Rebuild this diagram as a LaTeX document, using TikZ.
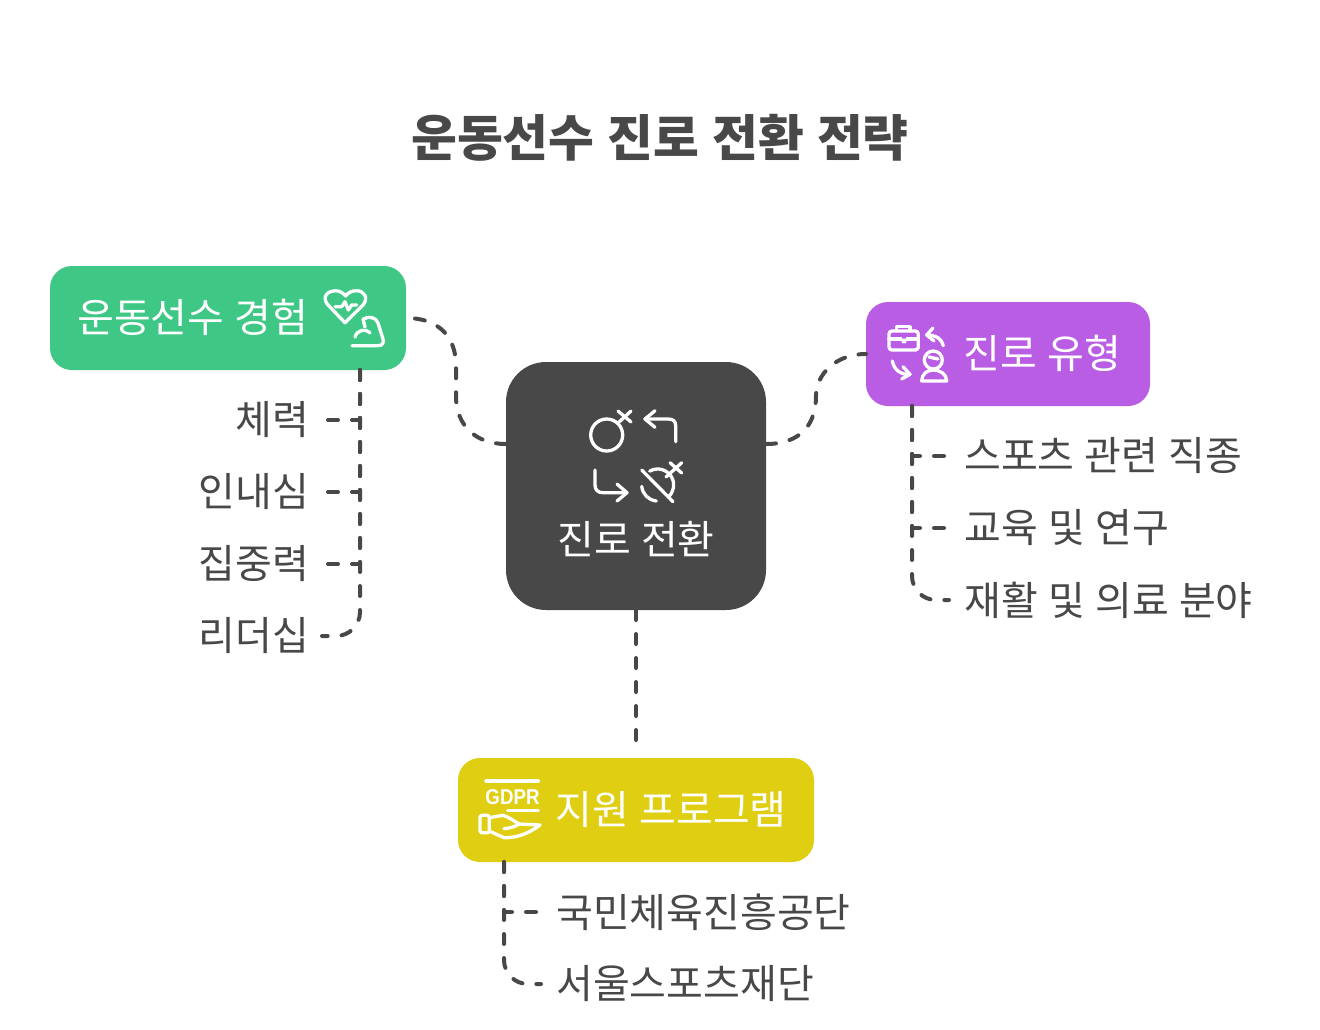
\documentclass[tikz,border=0pt]{standalone}
\usepackage{fontspec}
\setmainfont[WordSpace=1.15]{Noto Sans CJK KR}
\newfontfamily\gdprfont{Liberation Sans}
\definecolor{inkgray}{HTML}{484848}
\definecolor{expgreen}{HTML}{3EC785}
\definecolor{typpurple}{HTML}{BA5DE5}
\definecolor{proyellow}{HTML}{E0CE12}
\tikzset{
  box/.style={minimum width=#1, inner sep=0pt, outer sep=0pt},
  lbl/.style={inner sep=0pt, text=white, font=\fontsize{40}{48}\selectfont},
  leafl/.style={anchor=east, inner xsep=13pt, inner ysep=0pt, text=inkgray, font=\fontsize{40}{48}\selectfont},
  leafr/.style={anchor=west, inner xsep=15pt, inner ysep=0pt, text=inkgray, font=\fontsize{40}{48}\selectfont},
  branch/.style={draw=inkgray, line width=4pt, line cap=round, dash pattern=on 10pt off 14pt},
  glyph/.style={draw=white, line width=3.3pt, line cap=round, line join=round}
}
\begin{document}
\begin{tikzpicture}[x=1pt,y=-1pt]
  \useasboundingbox (0,0) rectangle (1320,1029);
  \node[inner sep=0pt, text=inkgray, font=\fontsize{49.8}{60}\selectfont\bfseries] (title) at (660,138) {운동선수 진로 전환 전략};
  % boxes
  \node[box=356pt, minimum height=104pt, fill=expgreen, rounded corners=22pt] (exp) at (228,318) {};
  \node[box=260pt, minimum height=248pt, fill=inkgray, rounded corners=40pt] (cen) at (636,486) {};
  \node[box=284pt, minimum height=104pt, fill=typpurple, rounded corners=22pt] (typ) at (1008,354) {};
  \node[box=356pt, minimum height=104pt, fill=proyellow, rounded corners=22pt] (pro) at (636,810) {};
  \node[lbl, anchor=west] (explbl) at (77,317.5) {운동선수 경험};
  \node[lbl] (cenlbl) at (636,539.5) {진로 전환};
  \node[lbl, anchor=west] (typlbl) at (963.5,353.5) {진로 유형};
  \node[lbl, anchor=west] (prolbl) at (555.5,809.5) {지원 프로그램};
  % leaves
  \node[leafl] (l1) at (322,420) {체력};
  \node[leafl] (l2) at (322,492) {인내심};
  \node[leafl] (l3) at (322,564) {집중력};
  \node[leafl] (l4) at (322,636) {리더십};
  \node[leafr] (r1) at (949,456) {스포츠 관련 직종};
  \node[leafr] (r2) at (949,528) {교육 및 연구};
  \node[leafr] (r3) at (949,600) {재활 및 의료 분야};
  \node[leafr] (b1) at (541,912) {국민체육진흥공단};
  \node[leafr] (b2) at (541,984) {서울스포츠재단};
  % connectors
  \begin{scope}[branch]
    \draw ([yshift=42pt]cen.west) .. controls (475,444) and (456,425) .. (456,396) -- (456,366) .. controls (456,338) and (440,318) .. (exp.east);
    \draw ([yshift=42pt]cen.east) .. controls (800,444) and (816,425) .. (816,396) .. controls (816,375) and (835,354) .. (typ.west);
    \draw[shorten >=12pt] (cen.south) -- (pro.north);
    \draw ([xshift=132pt]exp.south) |- (l1.east);
    \draw ([xshift=132pt]exp.south) |- (l2.east);
    \draw ([xshift=132pt]exp.south) |- (l3.east);
    \draw[rounded corners=24pt] ([xshift=132pt]exp.south) |- (l4.east);
    \draw ([xshift=-96pt]typ.south) |- (r1.west);
    \draw ([xshift=-96pt]typ.south) |- (r2.west);
    \draw[rounded corners=24pt] ([xshift=-96pt]typ.south) |- (r3.west);
    \draw ([xshift=-132pt]pro.south) |- (b1.west);
    \draw[rounded corners=24pt] ([xshift=-132pt]pro.south) |- (b2.west);
  \end{scope}
  % icon of the centre box
  \begin{scope}[glyph]
    \draw (606.7,435) circle[radius=16];
    \draw (618,423) -- (631,411);
    \draw (618,411) -- (631,422);
    \draw (675.7,441.7) -- (675.7,426) .. controls (675.7,421) and (673,419) .. (668,419) -- (645,419);
    \draw (655,410.7) -- (645,419) -- (655,427.3);
    \draw (595,470) -- (595,485) .. controls (595,490) and (598,492.7) .. (603,492.7) -- (626.7,492.7);
    \draw (617,484) -- (627,492.7) -- (617,501);
    \draw (641.7,470) -- (673,501.7);
    \draw (657.7,485) ++(-120:16) arc[start angle=-120, end angle=50, radius=16];
    \draw (657.7,485) ++(175:16) arc[start angle=175, end angle=95, radius=16];
    \draw (666,477) -- (681.7,462.7);
    \draw (670,462.7) -- (681.7,473);
  \end{scope}
  % icon of the green box
  \begin{scope}[glyph]
    \draw (345,322.7) -- (328,305) .. controls (321,297) and (328,290.7) .. (335,290.7) .. controls (340,290.7) and (343,293) .. (345.7,296) .. controls (348,293) and (351,290.7) .. (356.7,290.7) .. controls (364,290.7) and (369,298) .. (363,305) -- cycle;
    \draw (335,306.7) -- (341.7,306.7) -- (345,301.7) -- (348.3,310) -- (351.7,305) -- (356.7,305);
    \draw (352,345.7) -- (378,345.7) .. controls (383,345.7) and (384,342) .. (383,339) -- (378,323) .. controls (376,317) and (369,316) .. (363,319) -- (365,327);
    \draw (355,337) .. controls (357,330) and (365,328) .. (370,333);
  \end{scope}
  % icon of the purple box
  \begin{scope}[glyph]
    \draw[rounded corners=3pt] (889,331) rectangle (918.3,350);
    \draw (889,339) -- (901,339);
    \draw (907,339) -- (918.3,339);
    \draw (896.7,331) -- (896.7,326.7) -- (910,326.7) -- (910,331);
    \draw (904,341) circle[radius=1.2];
    \draw (943.3,345.7) .. controls (942,339) and (936,335) .. (926.7,335);
    \draw (933,328) -- (926.7,335) -- (934,341);
    \draw (892.3,361) .. controls (894,370) and (901,375) .. (910,374.3);
    \draw (903,366.7) -- (910,374.3) -- (901.7,379);
    \draw (933.3,360) circle[radius=9];
    \draw (929,357) -- (938,359);
    \draw (921.7,381) .. controls (921.7,374) and (927,370) .. (933.3,370) .. controls (940,370) and (946.7,374) .. (946.7,381) -- cycle;
  \end{scope}
  % icon of the yellow box
  \begin{scope}[glyph]
    \draw (486,781) -- (538.3,781);
    \draw (507.7,810.5) -- (538.3,810.5);
    \draw[rounded corners=2pt] (480,815.3) rectangle (489.3,832.7);
    \draw (489.3,817.7) -- (502.7,815.3) .. controls (509,817) and (514,821) .. (519,824) .. controls (515,827) and (510,828) .. (504,828.7);
    \draw (519,824) -- (540,825) .. controls (532,831) and (520,838) .. (504,837.7) -- (489.3,831);
    \node[inner sep=0pt, text=white, font=\gdprfont\bfseries\fontsize{21.5}{20}\selectfont, xscale=0.87] (gdpr) at (512.5,797) {GDPR};
  \end{scope}
\end{tikzpicture}
\end{document}
